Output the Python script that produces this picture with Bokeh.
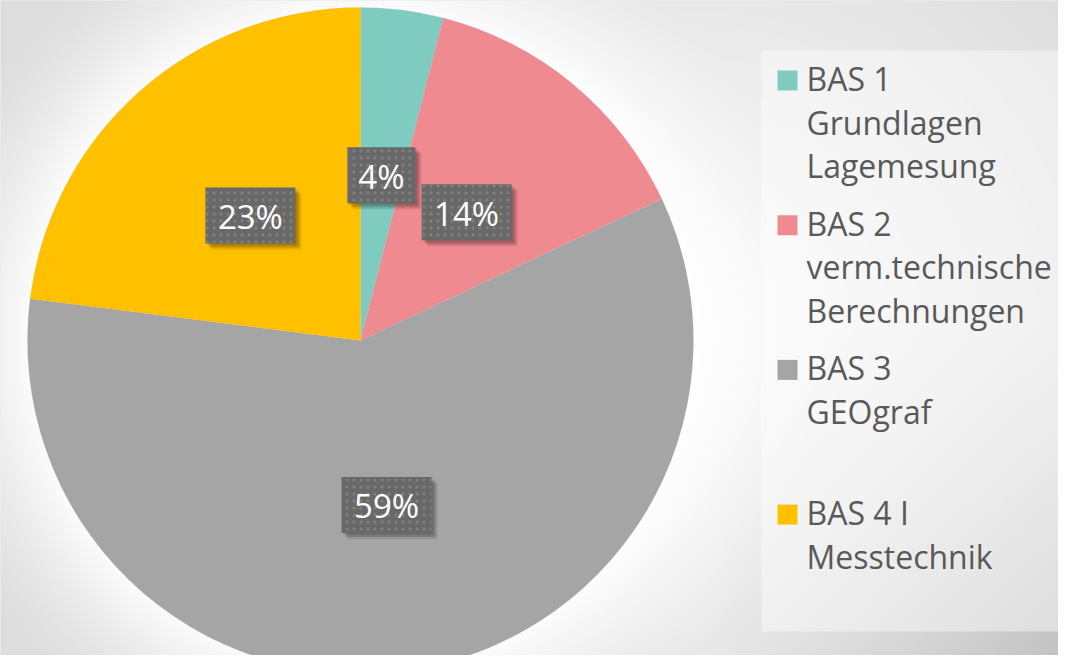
import math
import numpy as np
from bokeh.plotting import figure
from bokeh.models import Range1d, ColumnDataSource
from bokeh.core.properties import value
from bokeh.embed import file_html
from bokeh.resources import INLINE

# ---------------- data ----------------
categories = ["BAS 1\nGrundlagen\nLagemesung",
              "BAS 2\nverm.technische\nBerechnungen",
              "BAS 3\nGEOgraf",
              "BAS 4 I\nMesstechnik"]
shares = [4, 14, 59, 23]
colors = ["#7fcbbf", "#f08a91", "#a5a5a5", "#ffc000"]

FONT = "Open Sans"
W, H = 1058, 655

# data coordinates: x = screen x, y = 671 - screen y
p = figure(width=W, height=H, output_backend="svg", toolbar_location=None,
           x_range=Range1d(0, W), y_range=Range1d(671 - H, 671),
           x_axis_location=None, y_axis_location=None, min_border=0)
p.grid.visible = False
p.outline_line_color = None
p.background_fill_color = "#dcdcdc"
p.border_fill_color = "#dcdcdc"

def py(page_y):
    return 671 - page_y

# pie geometry (screen coordinates)
cx, cy_page, R = 360.0, 340.0, 333.0
cy = py(cy_page)

# ---------------- background (style only) ----------------
xs = np.arange(W) + 0.5
ys_page = 655 - (np.arange(H) + 0.5)
X, Yp = np.meshgrid(xs, ys_page)
dist = np.hypot(X - 700, Yp - 330)
t = np.clip(dist / 500.0, 0, 1)
base = 250 - 29 * t ** 1.2
base -= 30 * np.clip((X - 700) / 374, 0, 1) * np.clip((Yp - 330) / 341, 0, 1)
d_edge = np.hypot(X - cx, Yp - cy_page) - R
g = np.clip(1 - d_edge / 130.0, 0, 1) ** 1.5 * 0.9
g[d_edge < 0] = 0
c = base + (255 - base) * g
c = np.clip(c, 0, 255).astype(np.uint8)
img = np.empty((H, W), dtype=np.uint32)
view = img.view(dtype=np.uint8).reshape((H, W, 4))
view[:, :, 0] = c
view[:, :, 1] = c
view[:, :, 2] = c
view[:, :, 3] = 255
p.image_rgba(image=[img], x=0, y=671 - H, dw=W, dh=H)

# ---------------- pie ----------------
total = float(sum(shares))
fr = [s / total for s in shares]
cum = np.cumsum([0] + fr)
start = [math.pi / 2 - 2 * math.pi * cum[i] for i in range(len(fr))]
end = [math.pi / 2 - 2 * math.pi * cum[i + 1] for i in range(len(fr))]
src = ColumnDataSource(dict(start=start, end=end, color=colors))
p.wedge(x=cx, y=cy, radius=R, start_angle="start", end_angle="end",
        direction="clock", fill_color="color", line_color=None, source=src)

# ---------------- data labels ----------------
lab = [f"{s}%" for s in shares]
mids = [(cum[i] + cum[i + 1]) / 2 for i in range(len(fr))]
lx = [cx + 0.5 * R * math.sin(2 * math.pi * m) for m in mids]
ly = [cy + 0.5 * R * math.cos(2 * math.pi * m) for m in mids]
bw = [22 * len(s) + 24 for s in lab]
bh = 56
for off, a in [(6, 0.10), (4, 0.16), (2, 0.12)]:
    p.rect(x=[v + off for v in lx], y=[v - off for v in ly], width=bw, height=bh,
           fill_color="black", fill_alpha=a, line_color=None)
p.rect(x=lx, y=ly, width=bw, height=bh, fill_color="#686868", line_color=None,
       hatch_pattern="dot", hatch_color="#7e7e7e", hatch_scale=7, hatch_weight=2)
p.text(x=lx, y=[v - 1 for v in ly], text=lab, text_color="white",
       text_font=value(FONT), text_font_size="33px",
       text_align="center", text_baseline="middle")

# ---------------- legend ----------------
lx0, lx1, ly0, ly1 = 761, 1061, 50, 631
p.quad(left=[lx0], right=[lx1], bottom=[py(ly1)], top=[py(ly0)],
       fill_color="white", fill_alpha=0.42, line_color=None)
line_h = 43.5
entry_h = 144.7
first_base = 90
for i, (name, col) in enumerate(zip(categories, colors)):
    b = first_base + i * entry_h
    p.quad(left=[777], right=[797], bottom=[py(b)], top=[py(b - 20)],
           fill_color=col, line_color=None)
    lines = name.split("\n")
    p.text(x=[806] * len(lines), y=[py(b - 12 + k * line_h) for k in range(len(lines))],
           text=lines, text_color="#595959", text_font=value(FONT),
           text_font_size="32px", text_align="left", text_baseline="alphabetic")

open("out.html", "w").write(file_html(p, INLINE))
